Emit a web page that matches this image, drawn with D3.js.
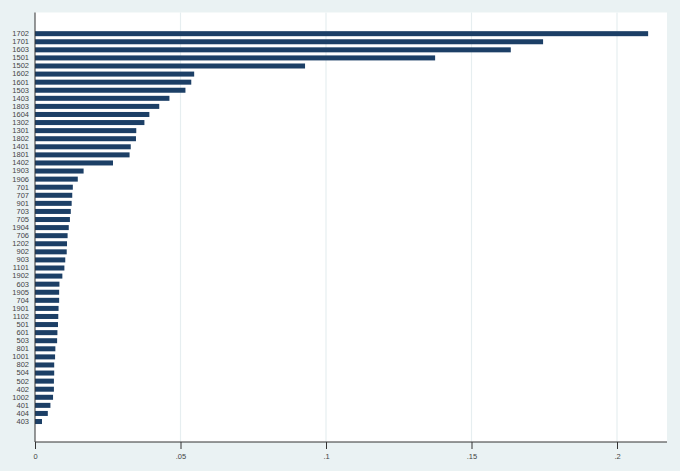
<!DOCTYPE html>
<html>
  <head>
    <meta charset="utf-8">
    <title>Bar chart</title>
    <script src="https://d3js.org/d3.v7.min.js"></script>
    <style>
      html, body { margin: 0; padding: 0; background: #eaf2f3; }
      text { font-family: "Liberation Sans", Arial, sans-serif; }
    </style>
  </head>
  <body>
    <div id="chart"></div>
    <script>
      // categories, top to bottom
      const codes = ['1702','1701','1603','1501','1502','1602','1601','1503','1403','1803',
        '1604','1302','1301','1802','1401','1801','1402','1903','1906','701',
        '707','901','703','705','1904','706','1202','902','903','1101',
        '1902','603','1905','704','1901','1102','501','601','503','801',
        '1001','802','504','502','402','1002','401','404','403'];

      // bar values, same order
      const shares = [0.2107,0.1746,0.1635,0.1375,0.0928,0.0547,0.0537,0.0517,0.0462,0.0427,
        0.0393,0.0376,0.0348,0.0347,0.0329,0.0325,0.0268,0.0167,0.0147,0.0130,
        0.0128,0.0126,0.0123,0.0120,0.0116,0.0112,0.0110,0.0109,0.0104,0.0101,
        0.0094,0.0084,0.0083,0.0083,0.0081,0.0080,0.0079,0.0077,0.0076,0.0070,
        0.0069,0.0066,0.0066,0.0065,0.0065,0.0062,0.0053,0.0044,0.0024];

      const tickVals = [0, 0.05, 0.1, 0.15, 0.2];
      const tickLabels = ['0', '.05', '.1', '.15', '.2'];

      const width = 680, height = 471;
      const plot = { left: 35, right: 667, top: 12.5, bottom: 442 };

      const data = codes.map((c, i) => ({ code: c, value: shares[i] }));

      const x = d3.scaleLinear()
        .domain([0, 0.2])
        .range([plot.left, 617]);

      const y = d3.scaleBand()
        .domain(codes)
        .range([28.1, 427.1])
        .padding(0.38);

      const svg = d3.select('#chart')
        .append('svg')
        .attr('width', width)
        .attr('height', height);

      svg.append('rect')
        .attr('width', width)
        .attr('height', height)
        .attr('fill', '#eaf2f3');

      // white plot region
      svg.append('rect')
        .attr('x', plot.left)
        .attr('y', plot.top)
        .attr('width', plot.right - plot.left)
        .attr('height', plot.bottom - plot.top)
        .attr('fill', '#ffffff');

      // grid lines
      svg.selectAll('.grid')
        .data(tickVals.slice(1))
        .enter()
        .append('line')
        .attr('class', 'grid')
        .attr('x1', d => x(d))
        .attr('x2', d => x(d))
        .attr('y1', plot.top)
        .attr('y2', plot.bottom)
        .attr('stroke', '#e6eef0')
        .attr('stroke-width', 1.2);

      // bars
      svg.selectAll('.bar')
        .data(data)
        .enter()
        .append('rect')
        .attr('class', 'bar')
        .attr('x', x(0))
        .attr('y', d => y(d.code))
        .attr('width', d => x(d.value) - x(0))
        .attr('height', y.bandwidth())
        .attr('fill', '#1c3f66');

      // x axis
      const xAxis = svg.append('g')
        .attr('transform', 'translate(0,' + plot.bottom + ')')
        .call(d3.axisBottom(x)
          .tickValues(tickVals)
          .tickFormat((d, i) => tickLabels[i])
          .tickSize(7)
          .tickPadding(5)
          .tickSizeOuter(0));
      xAxis.select('.domain')
        .attr('d', 'M' + plot.left + ',0H' + plot.right)
        .attr('stroke', '#333');
      xAxis.selectAll('.tick line').attr('stroke', '#333');
      xAxis.selectAll('text')
        .attr('fill', '#444')
        .style('font-size', '7.5px');

      // y axis
      const yAxis = svg.append('g')
        .attr('transform', 'translate(' + plot.left + ',0)')
        .call(d3.axisLeft(y)
          .tickSize(0)
          .tickPadding(6)
          .tickSizeOuter(0));
      yAxis.select('.domain')
        .attr('d', 'M0,' + plot.top + 'V' + plot.bottom)
        .attr('stroke', '#333');
      yAxis.selectAll('text')
        .attr('fill', '#444')
        .style('font-size', '7.5px');
    </script>
  </body>
</html>
